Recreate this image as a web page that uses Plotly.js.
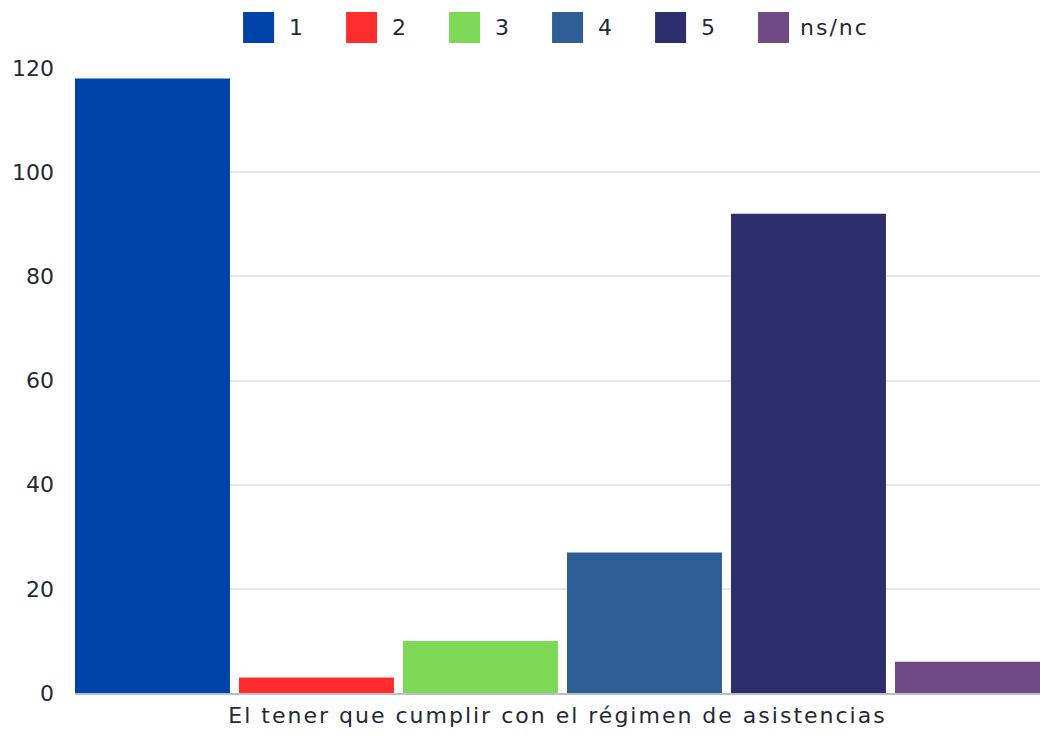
<!DOCTYPE html>
<html>
<head>
<meta charset="utf-8">
<script src="https://cdn.plot.ly/plotly-3.0.1.min.js"></script>
<style>
html,body{margin:0;padding:0;overflow:hidden;background:#fff;}
#chart{width:1040px;height:740px;}
#chart text.xtitle, #chart .annotation-text{letter-spacing:2px;}
</style>
</head>
<body>
<div id="chart"></div>
<script>
const category = ['El tener que cumplir con el régimen de asistencias'];
const seriesNames = ['1', '2', '3', '4', '5', 'ns/nc'];
const seriesValues = [118, 3, 10, 27, 92, 6];
const seriesColors = ['#0043A8', '#FF2D2D', '#7ED957', '#2E5E95', '#2D2F6C', '#6F4A85'];
const yTicks = [0, 20, 40, 60, 80, 100, 120];

const FONT = 'DejaVu Sans, sans-serif';
const TEXT = '#1f2a37';
const FS = 22;
const LS = 2; // letter spacing used by css above

const traces = seriesNames.map((n, i) => ({
  type: 'bar',
  name: n,
  x: category,
  y: [seriesValues[i]],
  marker: {color: seriesColors[i]},
  showlegend: false,
  hoverinfo: 'name+y'
}));

// custom legend with large square swatches (layout decoration, paper coords)
const L = 75, R = 1040, T = 68, B = 693;
const pw = R - L, ph = B - T;
const px2x = p => (p - L) / pw;
const py2y = p => (B - p) / ph;
const cv = document.createElement('canvas').getContext('2d');
cv.font = FS + 'px ' + FONT;
const sw = 31, gapLbl = 14, gapItem = 42;
const widths = seriesNames.map(n => cv.measureText(n).width + LS * n.length);
let total = widths.reduce((a, w) => a + sw + gapLbl + w, 0) + gapItem * (seriesNames.length - 1);
let cur = (L + R) / 2 - total / 2;
const shapes = [], annotations = [];
seriesNames.forEach((n, i) => {
  shapes.push({type: 'rect', xref: 'paper', yref: 'paper',
    x0: px2x(cur), x1: px2x(cur + sw), y0: py2y(43), y1: py2y(12),
    fillcolor: seriesColors[i], line: {width: 0}});
  annotations.push({xref: 'paper', yref: 'paper', x: px2x(cur + sw + gapLbl), y: py2y(28),
    xanchor: 'left', yanchor: 'middle', text: n, showarrow: false,
    font: {family: FONT, size: FS, color: TEXT}});
  cur += sw + gapLbl + widths[i] + gapItem;
});

const layout = {
  width: 1040, height: 740,
  margin: {l: L, r: 1040 - R, t: T, b: 740 - B},
  paper_bgcolor: '#fff', plot_bgcolor: '#fff',
  barmode: 'group', bargap: 0, bargroupgap: 0.055,
  font: {family: FONT, size: FS, color: TEXT},
  showlegend: false,
  xaxis: {
    type: 'category',
    range: [-0.4954, 0.4853],
    showticklabels: false, ticks: '',
    showgrid: false, zeroline: false,
    showline: true, linecolor: '#b9bfc7', linewidth: 1.5,
    title: {text: category[0], standoff: 14, font: {family: FONT, size: FS, color: TEXT}}
  },
  yaxis: {
    range: [0, 120],
    tickvals: yTicks,
    ticks: '',
    ticklabelstandoff: 20,
    showgrid: true, gridcolor: '#e4e7eb', gridwidth: 1.5,
    zeroline: false, showline: false,
    tickfont: {family: FONT, size: FS, color: TEXT}
  },
  shapes: shapes,
  annotations: annotations
};

Plotly.newPlot('chart', traces, layout, {displayModeBar: false, responsive: false});
</script>
</body>
</html>
